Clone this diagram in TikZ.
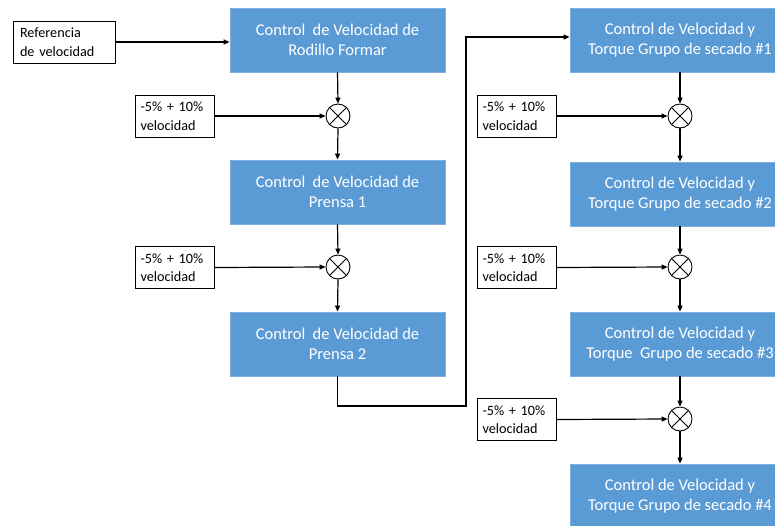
\documentclass[tikz,border=0pt]{standalone}
\usepackage{fontspec}
\setmainfont{Carlito}
\usetikzlibrary{arrows.meta}
\definecolor{boxblue}{HTML}{5B9BD5}
\definecolor{boxedge}{HTML}{7FB0DF}
\tikzset{
  bluebox/.style={rectangle, fill=boxblue, draw=boxedge, line width=0.8pt, text=white,
    align=center, font=\fontsize{16.5}{20}\selectfont, inner sep=0pt},
  inbox/.style={rectangle, draw=black, line width=0.9pt, fill=white, align=left,
    font=\fontsize{14.2}{18.5}\selectfont, inner sep=0pt, minimum width=79pt, minimum height=42pt, text width=68pt},
  mixer/.style={circle, draw=black, line width=0.9pt, fill=white, minimum size=24pt, inner sep=0pt,
    path picture={\draw[line width=0.9pt] (path picture bounding box.north west) -- (path picture bounding box.south east)
      (path picture bounding box.north east) -- (path picture bounding box.south west);}},
  flow/.style={line width=1.2pt, -{Triangle[length=6pt,width=5pt]}}
}
\begin{document}
\begin{tikzpicture}[x=1pt,y=-1pt]
\useasboundingbox (0,0) rectangle (775,525);
\clip (0,0) rectangle (775,525);
% left column
\node[inbox, minimum width=102pt, text width=88pt] (ref) at (64,42) {Referencia\\de velocidad};
\node[bluebox, minimum width=215pt, minimum height=64pt] (L1) at (337.5,40) {Control\ \ de Velocidad de\\Rodillo Formar};
\node[mixer] (s1) at (338,116) {};
\node[inbox] (in1) at (174.5,116) {-5\% + 10\%\\velocidad};
\node[bluebox, minimum width=215pt, minimum height=64pt] (L2) at (337.5,192) {Control\ \ de Velocidad de\\Prensa 1};
\node[mixer] (s2) at (338,267) {};
\node[inbox] (in2) at (174.5,267.5) {-5\% + 10\%\\velocidad};
\node[bluebox, minimum width=215pt, minimum height=64pt] (L3) at (337.5,344) {Control\ \ de Velocidad de\\Prensa 2};
% right column
\node[bluebox, minimum width=220pt, minimum height=64pt] (R1) at (680,40) {Control de Velocidad y\\Torque Grupo de secado \#1};
\node[mixer] (t1) at (680,116) {};
\node[inbox] (inR1) at (516.5,116) {-5\% + 10\%\\velocidad};
\node[bluebox, minimum width=220pt, minimum height=64pt] (R2) at (680,194) {Control de Velocidad y\\Torque Grupo de secado \#2};
\node[mixer] (t2) at (680,267) {};
\node[inbox] (inR2) at (516.5,267.5) {-5\% + 10\%\\velocidad};
\node[bluebox, minimum width=220pt, minimum height=64pt] (R3) at (680,344) {Control de Velocidad y\\Torque\ \ Grupo de secado \#3};
\node[mixer] (t3) at (680,419) {};
\node[inbox] (inR3) at (516.5,419.5) {-5\% + 10\%\\velocidad};
\node[bluebox, minimum width=220pt, minimum height=64pt] (R4) at (680,496) {Control de Velocidad y\\Torque Grupo de secado \#4};
\coordinate (j1) at (466,406);
\coordinate (j2) at (466,37);
% connectors
\draw[flow] (ref.east) -- (ref.east -| L1.west);
\draw[flow] (L1.south) -- (s1.north);
\draw[flow] (in1.east) -- (s1.west);
\draw[flow] (s1.south) -- (L2.north);
\draw[flow] (L2.south) -- (s2.north);
\draw[flow] (in2.east) -- (s2.west);
\draw[flow] (s2.south) -- (L3.north);
\draw[flow] (L3.south) |- (j1) -- (j2) -- (j2 -| R1.west);
\draw[flow] (R1.south) -- (t1.north);
\draw[flow] (inR1.east) -- (t1.west);
\draw[flow] (t1.south) -- (R2.north);
\draw[flow] (R2.south) -- (t2.north);
\draw[flow] (inR2.east) -- (t2.west);
\draw[flow] (t2.south) -- (R3.north);
\draw[flow] (R3.south) -- (t3.north);
\draw[flow] (inR3.east) -- (t3.west);
\draw[flow] (t3.south) -- (R4.north);
\end{tikzpicture}
\end{document}
